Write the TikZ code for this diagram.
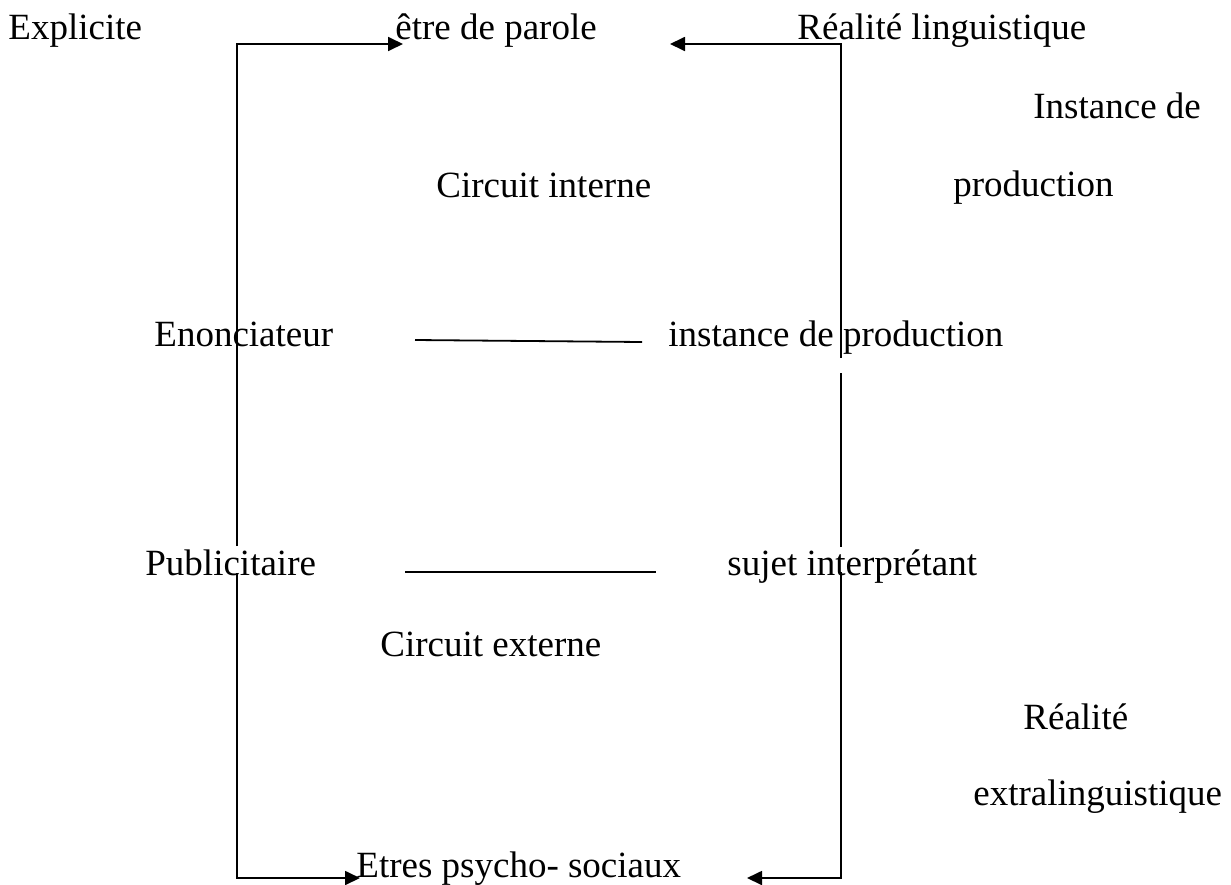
\documentclass[tikz,border=0pt]{standalone}
\usepackage{fontspec}
\setmainfont{Liberation Serif}
\usetikzlibrary{arrows.meta}
\begin{document}
\begin{tikzpicture}[x=0.5pt,y=-0.5pt,
  lbl/.style={anchor=base west,inner sep=0pt,font=\fontsize{18.5pt}{22pt}\selectfont},
  ln/.style={line width=0.9pt,black},
  arr/.style={ln,-{Triangle[length=7.5pt,width=7pt]}}]
\useasboundingbox (0,0) rectangle (1231,884);
% texts
\node[lbl] (explicite) at (8,39) {Explicite};
\node[lbl] (etre) at (395,39) {être de parole};
\node[lbl] (reallin) at (797,39) {Réalité linguistique};
\node[lbl] (inst1) at (1033,118) {Instance de};
\node[lbl] (prod1) at (953,196) {production};
\node[lbl] (cint) at (436,197) {Circuit interne};
\node[lbl] (enon) at (154,346) {Enonciateur};
\node[lbl] (instprod) at (668,346) {instance de production};
\node[lbl] (pub) at (145,575) {Publicitaire};
\node[lbl] (sujet) at (727,575) {sujet interprétant};
\node[lbl] (cext) at (380,656) {Circuit externe};
\node[lbl] (realext) at (1023,729) {Réalité};
\node[lbl] (extra) at (973,805) {extralinguistique};
\node[lbl] (etres) at (356,877) {Etres psycho- sociaux};
% coordinates
\coordinate (L1) at (237,546);
\coordinate (LT) at (237,44);
\coordinate (A1) at (403,44);
\coordinate (R1) at (841,358);
\coordinate (RT) at (841,44);
\coordinate (A2) at (670,44);
\coordinate (R2a) at (841,373);
\coordinate (R2b) at (841,547);
\coordinate (R3) at (841,572);
\coordinate (RB) at (841,878);
\coordinate (A3) at (747,878);
\coordinate (L2) at (237,573);
\coordinate (LB) at (237,878);
\coordinate (A4) at (360,878);
\coordinate (H1a) at (415,340);
\coordinate (H1b) at (642,342);
\coordinate (H2a) at (405,572);
\coordinate (H2b) at (656,572);
% connectors
\draw[arr] (L1) -- (LT) -- (A1);
\draw[arr] (R1) -- (RT) -- (A2);
\draw[ln] (R2a) -- (R2b);
\draw[arr] (R3) -- (RB) -- (A3);
\draw[arr] (L2) -- (LB) -- (A4);
\draw[ln] (H1a) -- (H1b);
\draw[ln] (H2a) -- (H2b);
\end{tikzpicture}
\end{document}
